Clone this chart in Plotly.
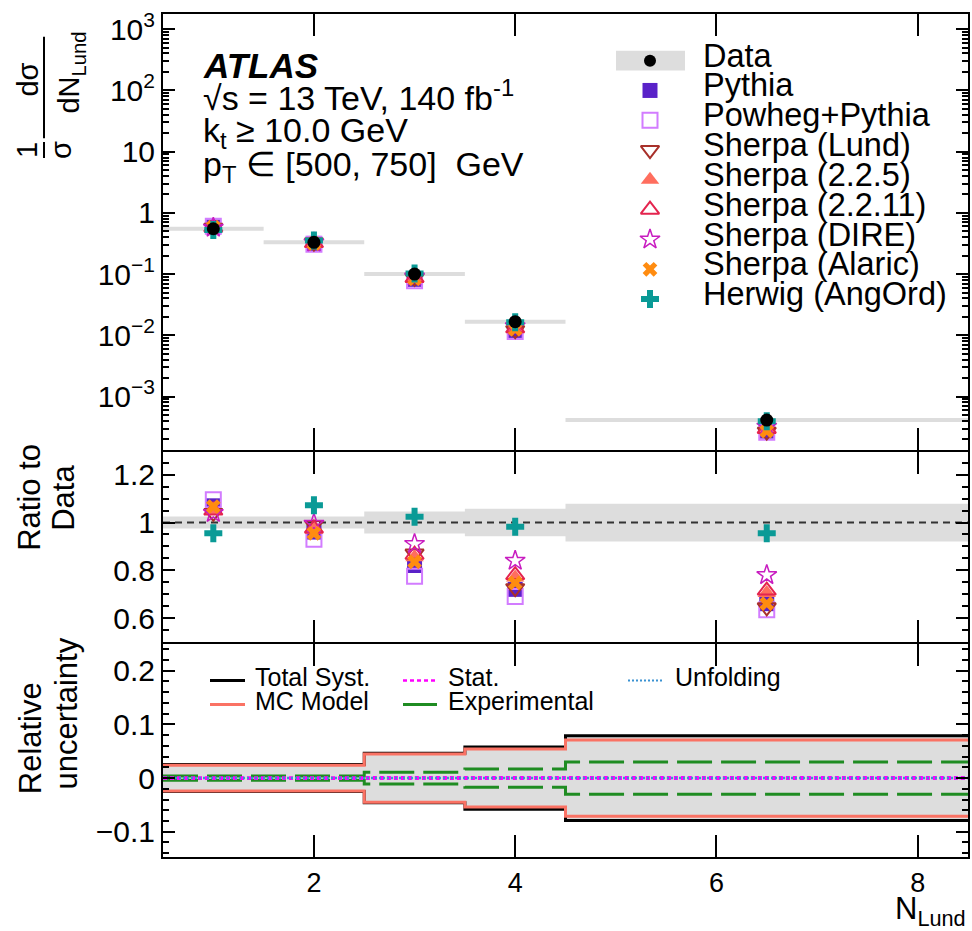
import plotly.graph_objects as go

W, H = 972, 931

# ---------------- data ----------------
bin_edges = [0.5, 1.5, 2.5, 3.5, 4.5, 8.5]
bin_centers = [1, 2, 3, 4, 6.5]
data_vals = [0.55, 0.33, 0.10, 0.0167, 0.000413]

total_unc = [0.025, 0.025, 0.046, 0.058, 0.079]
mc_model_unc = [0.024, 0.024, 0.045, 0.054, 0.071]
exp_unc = [0.004, 0.004, 0.011, 0.017, 0.030]
stat_unc = [0.0012, 0.0012, 0.0014, 0.0014, 0.0014]
unf_unc = [0.0006, 0.0006, 0.0006, 0.0006, 0.0006]

mc_names = ["Pythia", "Powheg+Pythia", "Sherpa (Lund)", "Sherpa (2.2.5)",
            "Sherpa (2.2.11)", "Sherpa (DIRE)", "Sherpa (Alaric)", "Herwig (AngOrd)"]
pythia_ratio = [1.07, 0.96, 0.82, 0.72, 0.66]
powheg_ratio = [1.095, 0.93, 0.775, 0.69, 0.635]
sherpa_lund_ratio = [1.04, 0.99, 0.87, 0.725, 0.645]
sherpa_225_ratio = [1.05, 0.97, 0.855, 0.77, 0.705]
sherpa_2211_ratio = [1.05, 0.975, 0.865, 0.78, 0.715]
sherpa_dire_ratio = [1.04, 0.995, 0.91, 0.84, 0.78]
sherpa_alaric_ratio = [1.067, 0.955, 0.835, 0.747, 0.66]
herwig_ratio = [0.955, 1.072, 1.024, 0.982, 0.955]
mc_ratios = [pythia_ratio, powheg_ratio, sherpa_lund_ratio, sherpa_225_ratio,
             sherpa_2211_ratio, sherpa_dire_ratio, sherpa_alaric_ratio, herwig_ratio]

log_tickvals = [1e-3, 1e-2, 1e-1, 1, 10, 100, 1000]
log_ticktext = ["10<sup>\u22123</sup>", "10<sup>\u22122</sup>", "10<sup>\u22121</sup>",
                "1", "10", "10<sup>2</sup>", "10<sup>3</sup>"]
ratio_tickvals = [0.6, 0.8, 1.0, 1.2]
ratio_ticktext = ["0.6", "0.8", "1", "1.2"]
unc_tickvals = [-0.1, 0.0, 0.1, 0.2]
unc_ticktext = ["\u22120.1", "0", "0.1", "0.2"]
x_tickvals = [2, 4, 6, 8]

# ---------------- styles ----------------
FONT = "Liberation Sans, Arial, sans-serif"
mc_styles = [
    dict(symbol="square", color="#5a22c8", size=15, lw=0),
    dict(symbol="square-open", color="#d27cff", size=15, lw=2),
    dict(symbol="triangle-down-open", color="#a8302a", size=16, lw=2),
    dict(symbol="triangle-up", color="#ff6e5e", size=16, lw=0),
    dict(symbol="triangle-up-open", color="#e4244e", size=16, lw=2),
    dict(symbol="star-open", color="#c81cc0", size=15, lw=1.5),
    dict(symbol="x", color="#ff8c10", size=13, lw=0),
    dict(symbol="cross", color="#0a9a96", size=15, lw=0),
]
GRAY = "#dddddd"
SALMON = "#fa7264"
GREEN = "#1f8c22"
MAGENTA = "#ff00ff"
BLUE = "#3a92d2"

def px(x):
    return x / W

def py(y):
    return 1 - y / H

fig = go.Figure()

# ---------------- top panel ----------------
seg_x, seg_y = [], []
for i, v in enumerate(data_vals):
    seg_x += [bin_edges[i], bin_edges[i + 1], None]
    seg_y += [v, v, None]
fig.add_trace(go.Scatter(x=seg_x, y=seg_y, mode="lines", line=dict(color=GRAY, width=4),
                         xaxis="x3", yaxis="y3", showlegend=False, hoverinfo="skip"))
for name, ratio, st in zip(mc_names, mc_ratios, mc_styles):
    vals = [d * r for d, r in zip(data_vals, ratio)]
    fig.add_trace(go.Scatter(
        x=bin_centers, y=vals, mode="markers", name=name, xaxis="x3", yaxis="y3",
        marker=dict(symbol=st["symbol"], size=st["size"], color=st["color"],
                    line=dict(color=st["color"], width=st["lw"])),
        showlegend=False))
fig.add_trace(go.Scatter(x=bin_centers, y=data_vals, mode="markers", name="Data",
                         marker=dict(symbol="circle", size=13, color="black"),
                         xaxis="x3", yaxis="y3", showlegend=False))

# ---------------- ratio panel ----------------
band_x, band_up, band_lo = [], [], []
for i, u in enumerate(total_unc):
    band_x += [bin_edges[i], bin_edges[i + 1]]
    band_up += [1 + u, 1 + u]
    band_lo += [1 - u, 1 - u]
fig.add_trace(go.Scatter(x=band_x + band_x[::-1], y=band_up + band_lo[::-1], fill="toself",
                         fillcolor=GRAY, line=dict(width=0), mode="lines",
                         xaxis="x2", yaxis="y2", showlegend=False, hoverinfo="skip"))
fig.add_trace(go.Scatter(x=[bin_edges[0], bin_edges[-1]], y=[1, 1], mode="lines",
                         line=dict(color="#333333", width=2, dash="7px,5px"),
                         xaxis="x2", yaxis="y2", showlegend=False, hoverinfo="skip"))
for name, ratio, st in zip(mc_names, mc_ratios, mc_styles):
    fig.add_trace(go.Scatter(
        x=bin_centers, y=ratio, mode="markers", name=name, xaxis="x2", yaxis="y2",
        marker=dict(symbol=st["symbol"], size=st["size"], color=st["color"],
                    line=dict(color=st["color"], width=st["lw"])),
        showlegend=False))

# ---------------- relative uncertainty panel ----------------
fig.add_trace(go.Scatter(x=band_x + band_x[::-1],
                         y=[u - 1 for u in band_up] + [l - 1 for l in band_lo[::-1]],
                         fill="toself", fillcolor=GRAY, line=dict(width=0), mode="lines",
                         xaxis="x", yaxis="y", showlegend=False, hoverinfo="skip"))

def step(vals):
    return bin_edges, list(vals) + [vals[-1]]

for arr, color, width, dash in [
    (total_unc, "black", 3, "solid"),
    (mc_model_unc, SALMON, 3, "solid"),
    (exp_unc, GREEN, 3, "35px,9px"),
    (stat_unc, MAGENTA, 2.5, "4px,3px"),
    (unf_unc, BLUE, 2, "2px,2px"),
]:
    for sgn in (1, -1):
        xs, ys = step([sgn * a for a in arr])
        fig.add_trace(go.Scatter(x=xs, y=ys, mode="lines", line_shape="hv",
                                 line=dict(color=color, width=width, dash=dash),
                                 xaxis="x", yaxis="y", showlegend=False, hoverinfo="skip"))

# ---------------- legend glyphs (overlay axis in pixel space) ----------------
leg_y0, leg_dy, leg_mx, leg_tx = 55, 30, 650, 701
for i, st in enumerate(mc_styles):
    fig.add_trace(go.Scatter(
        x=[leg_mx], y=[leg_y0 + leg_dy * (i + 1)], mode="markers", xaxis="x4", yaxis="y4",
        marker=dict(symbol=st["symbol"], size=st["size"], color=st["color"],
                    line=dict(color=st["color"], width=st["lw"])),
        showlegend=False, hoverinfo="skip"))
fig.add_trace(go.Scatter(x=[leg_mx], y=[leg_y0], mode="markers", xaxis="x4", yaxis="y4",
                         marker=dict(symbol="circle", size=12, color="black"),
                         showlegend=False, hoverinfo="skip"))

shapes = []
shapes.append(dict(type="rect", xref="paper", yref="paper", x0=px(616), x1=px(685),
                   y0=py(65), y1=py(45), fillcolor=GRAY, line=dict(width=0), layer="below"))
# y-title fraction bars
shapes.append(dict(type="line", xref="paper", yref="paper", x0=px(44), x1=px(44),
                   y0=py(31), y1=py(133), line=dict(color="black", width=2)))
shapes.append(dict(type="line", xref="paper", yref="paper", x0=px(44), x1=px(44),
                   y0=py(137), y1=py(153), line=dict(color="black", width=2)))
# bottom legend line samples
for (x0, x1, y, color, width, dash) in [
    (210, 245, 679, "black", 3, "solid"),
    (210, 245, 703, SALMON, 3, "solid"),
    (403, 437, 679, MAGENTA, 2.5, "4px,3px"),
    (403, 437, 703, GREEN, 3, "solid"),
    (628, 663, 679, BLUE, 2, "2px,2px"),
]:
    shapes.append(dict(type="line", xref="paper", yref="paper", x0=px(x0), x1=px(x1),
                       y0=py(y), y1=py(y), line=dict(color=color, width=width, dash=dash)))

ann = []
def text(x, y, s, size=31, xanchor="left", angle=0):
    ann.append(dict(x=px(x), y=py(y), xref="paper", yref="paper", text=s, showarrow=False,
                    xanchor=xanchor, yanchor="middle", textangle=angle,
                    font=dict(family=FONT, size=size, color="black")))

legend_labels = ["Data"] + mc_names
for i, lab in enumerate(legend_labels):
    text(leg_tx, leg_y0 + leg_dy * i - 5, lab, size=32.5)

text(201, 60, "<b><i>ATLAS</i></b>", size=35)
text(201, 90, "\u221as = 13 TeV, 140 fb<sup>-1</sup>", size=34)
text(201, 127, "k<sub>t</sub> \u2265 10.0 GeV", size=34)
text(201, 162, "p<sub>T</sub> \u2208 [500, 750]\u00a0 GeV", size=34)

text(253, 675, "Total Syst.", size=25)
text(253, 700, "MC Model", size=25)
text(446, 675, "Stat.", size=25)
text(446, 700, "Experimental", size=25)
text(673, 675, "Unfolding", size=25)

# y titles
text(27, 145, "1", size=29, xanchor="center", angle=-90)
text(61, 145, "\u03c3", size=29, xanchor="center", angle=-90)
text(28, 74, "d\u03c3", size=29, xanchor="center", angle=-90)
text(71, 67, "dN<sub>Lund</sub>", size=29, xanchor="center", angle=-90)
text(30, 495, "Ratio to", size=31, xanchor="center", angle=-90)
text(64, 495, "Data", size=31, xanchor="center", angle=-90)
text(30, 737, "Relative", size=31, xanchor="center", angle=-90)
text(66, 712, "uncertainty", size=31, xanchor="center", angle=-90)
# x title
text(968, 911, "N<sub>Lund</sub>", size=31, xanchor="right")

# ---------------- layout ----------------
xdom = [px(163), px(968)]
common_x = dict(range=[bin_edges[0], bin_edges[-1]], domain=xdom, showline=True, linewidth=2,
                linecolor="black", mirror="allticks", ticks="inside", ticklen=22, tickwidth=2,
                tickcolor="black", tickvals=x_tickvals, showgrid=False, zeroline=False,
                tickfont=dict(family=FONT, size=27, color="black"))
common_y = dict(showline=True, linewidth=2, linecolor="black", mirror="allticks",
                ticks="inside", ticklen=12, tickwidth=2, tickcolor="black", showgrid=False,
                zeroline=False, tickfont=dict(family=FONT, size=30, color="black"))

minor_log = [k * 10.0 ** n for n in range(-4, 4) for k in range(2, 10)]

fig.update_layout(
    width=W, height=H, margin=dict(l=0, r=0, t=0, b=0),
    paper_bgcolor="white", plot_bgcolor="rgba(0,0,0,0)", showlegend=False,
    xaxis=dict(**common_x, anchor="y", showticklabels=True),
    yaxis=dict(**common_y, anchor="x", domain=[py(857), py(642)], range=[-0.148, 0.25],
               tickvals=unc_tickvals, ticktext=unc_ticktext,
               minor=dict(ticks="inside", ticklen=6, tickwidth=1.5, tickcolor="black",
                          dtick=0.02, tick0=0, showgrid=False)),
    xaxis2=dict(**common_x, anchor="y2", matches="x", showticklabels=False),
    yaxis2=dict(**common_y, anchor="x2", domain=[py(640), py(449)], range=[0.5, 1.295],
                tickvals=ratio_tickvals, ticktext=ratio_ticktext,
                minor=dict(ticks="inside", ticklen=6, tickwidth=1.5, tickcolor="black",
                           dtick=0.05, tick0=0, showgrid=False)),
    xaxis3=dict(**common_x, anchor="y3", matches="x", showticklabels=False),
    yaxis3=dict(**common_y, anchor="x3", type="log", domain=[py(447), py(8)],
                range=[-3.875, 3.248], tickvals=log_tickvals, ticktext=log_ticktext,
                minor=dict(ticks="inside", ticklen=6, tickwidth=1.5, tickcolor="black",
                           tickvals=minor_log, showgrid=False)),
    xaxis4=dict(domain=[0, 1], range=[0, W], visible=False, anchor="y4", fixedrange=True),
    yaxis4=dict(domain=[0, 1], range=[H, 0], visible=False, anchor="x4", fixedrange=True),
    shapes=shapes, annotations=ann,
)

fig.write_html("out.html")
